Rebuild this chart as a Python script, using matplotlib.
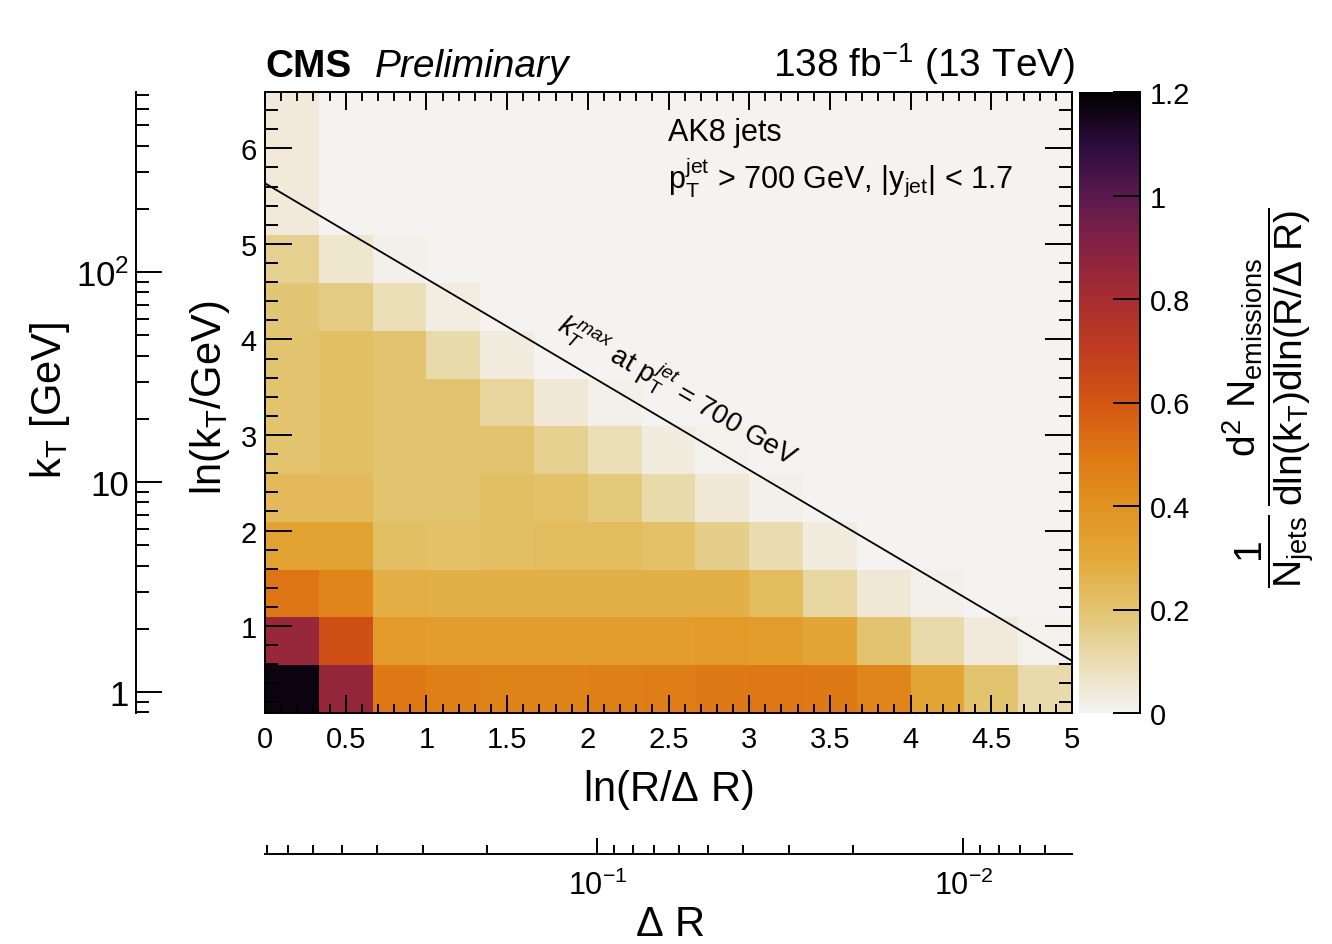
import numpy as np
import matplotlib
matplotlib.use('Agg')
import matplotlib.pyplot as plt
from matplotlib.colors import LinearSegmentedColormap
from matplotlib.ticker import MultipleLocator, FixedLocator, LogLocator, NullFormatter, FuncFormatter, FixedFormatter
from matplotlib.lines import Line2D

plt.rcParams['font.family'] = ['Liberation Sans', 'DejaVu Sans']
plt.rcParams['mathtext.fontset'] = 'custom'
plt.rcParams['mathtext.rm'] = 'Liberation Sans'
plt.rcParams['mathtext.it'] = 'Liberation Sans:italic'
plt.rcParams['mathtext.bf'] = 'Liberation Sans:bold'
plt.rcParams['mathtext.sf'] = 'Liberation Sans'
plt.rcParams['mathtext.default'] = 'regular'

# ---------------- data ----------------
ln_R_dR_edges = np.linspace(0.0, 5.0, 16)            # ln(R/dR) bin edges
ln_kT_edges = np.array([0.09, 0.59, 1.09, 1.59, 2.09, 2.59, 3.09,
                        3.59, 4.09, 4.59, 5.09, 5.59, 6.09, 6.59])  # ln(kT/GeV) bin edges

# density per ln(kT) row (bottom -> top), 15 ln(R/dR) bins each
row_00 = [1.17, 0.86, 0.50, 0.47, 0.46, 0.46, 0.47, 0.48, 0.49, 0.50, 0.49, 0.45, 0.31, 0.20, 0.11]
row_01 = [0.85, 0.63, 0.36, 0.35, 0.35, 0.35, 0.35, 0.35, 0.36, 0.35, 0.31, 0.20, 0.11, 0.04, 0.01]
row_02 = [0.51, 0.45, 0.28, 0.27, 0.27, 0.27, 0.27, 0.27, 0.27, 0.23, 0.12, 0.05, 0.015, 0.0, 0.0]
row_03 = [0.33, 0.33, 0.22, 0.21, 0.22, 0.23, 0.23, 0.21, 0.16, 0.10, 0.035, 0.0, 0.0, 0.0, 0.0]
row_04 = [0.24, 0.24, 0.20, 0.20, 0.22, 0.21, 0.18, 0.11, 0.05, 0.015, 0.0, 0.0, 0.0, 0.0, 0.0]
row_05 = [0.20, 0.22, 0.20, 0.20, 0.20, 0.15, 0.09, 0.035, 0.01, 0.0, 0.0, 0.0, 0.0, 0.0, 0.0]
row_06 = [0.20, 0.22, 0.20, 0.20, 0.13, 0.05, 0.015, 0.0, 0.0, 0.0, 0.0, 0.0, 0.0, 0.0, 0.0]
row_07 = [0.20, 0.22, 0.20, 0.11, 0.035, 0.0, 0.0, 0.0, 0.0, 0.0, 0.0, 0.0, 0.0, 0.0, 0.0]
row_08 = [0.19, 0.17, 0.09, 0.03, 0.0, 0.0, 0.0, 0.0, 0.0, 0.0, 0.0, 0.0, 0.0, 0.0, 0.0]
row_09 = [0.15, 0.06, 0.015, 0.0, 0.0, 0.0, 0.0, 0.0, 0.0, 0.0, 0.0, 0.0, 0.0, 0.0, 0.0]
row_10 = [0.04, 0.0, 0.0, 0.0, 0.0, 0.0, 0.0, 0.0, 0.0, 0.0, 0.0, 0.0, 0.0, 0.0, 0.0]
row_11 = [0.04, 0.0, 0.0, 0.0, 0.0, 0.0, 0.0, 0.0, 0.0, 0.0, 0.0, 0.0, 0.0, 0.0, 0.0]
row_12 = [0.04, 0.0, 0.0, 0.0, 0.0, 0.0, 0.0, 0.0, 0.0, 0.0, 0.0, 0.0, 0.0, 0.0, 0.0]

# kT^max line at pT = 700 GeV
line_x = [0.0, 5.0]
line_y = [5.635, 0.635]

cbar_ticks = [0, 0.2, 0.4, 0.6, 0.8, 1.0, 1.2]
cbar_labels = ['0', '0.2', '0.4', '0.6', '0.8', '1', '1.2']

Z = np.array([row_00, row_01, row_02, row_03, row_04, row_05, row_06,
              row_07, row_08, row_09, row_10, row_11, row_12])

# ---------------- colormap ----------------
vmax = 1.2
anchors = [(0.00, '#f4f3f1'), (0.05, '#f0e8d4'), (0.10, '#eadcb0'), (0.15, '#e5d090'),
           (0.20, '#e3c46e'), (0.30, '#e3a838'), (0.40, '#e1921f'), (0.50, '#de7814'),
           (0.60, '#d45512'), (0.70, '#c03c20'), (0.80, '#a82d30'), (0.90, '#862244'),
           (1.00, '#5a1a4e'), (1.10, '#2a0c3c'), (1.20, '#000000')]
cmap = LinearSegmentedColormap.from_list('cmsbody', [(v / vmax, c) for v, c in anchors], N=512)

# ---------------- figure ----------------
W, H = 1332, 945
fig = plt.figure(figsize=(W / 100, H / 100), dpi=100)

def fr(x0, y0, x1, y1):
    return [x0 / W, 1 - y1 / H, (x1 - x0) / W, (y1 - y0) / H]

LW = 1.4
PT = 72 / 100  # points per pixel

ax = fig.add_axes(fr(265, 93, 1072, 714))
ax.set_facecolor(cmap(0.0))
mesh = ax.pcolormesh(ln_R_dR_edges, ln_kT_edges, Z, cmap=cmap, vmin=0, vmax=vmax, shading='flat')
ax.plot(line_x, line_y, color='black', lw=1.3)
ax.set_xlim(0, 5)
ax.set_ylim(ln_kT_edges[0], ln_kT_edges[-1])
for s in ax.spines.values():
    s.set_linewidth(LW)
ax.xaxis.set_major_locator(MultipleLocator(0.5))
ax.xaxis.set_minor_locator(MultipleLocator(0.1))
ax.yaxis.set_major_locator(MultipleLocator(1))
ax.yaxis.set_minor_locator(MultipleLocator(0.2))
ax.xaxis.set_major_formatter(FuncFormatter(lambda v, p: f'{v:g}'))
ax.yaxis.set_major_formatter(FuncFormatter(lambda v, p: f'{v:g}'))
ax.tick_params(axis='x', which='major', direction='in', length=18 * PT, width=LW, top=True, labelsize=21, pad=9)
ax.tick_params(axis='x', which='minor', direction='in', length=9 * PT, width=LW, top=True)
ax.tick_params(axis='y', which='major', direction='in', length=27 * PT, width=LW, right=True, labelsize=21, pad=6)
ax.tick_params(axis='y', which='minor', direction='in', length=13 * PT, width=LW, right=True)

ax.text(1.80, 4.11, r'$\mathit{k}_{\mathit{T}}^{\mathit{max}}$ at $p_{T}^{\mathit{jet}}$ = 700 GeV',
        rotation=-30.2, rotation_mode='anchor', ha='left', va='baseline', fontsize=20)

# colorbar
cax = fig.add_axes(fr(1079, 93, 1140, 714))
cb = fig.colorbar(mesh, cax=cax)
cb.outline.set_visible(False)
cax.add_line(Line2D([1, 1], [0, 1], transform=cax.transAxes, color='black', lw=LW, clip_on=False))
cb.set_ticks(cbar_ticks)
cb.set_ticklabels(cbar_labels)
cax.tick_params(axis='y', which='major', direction='in', length=27 * PT, width=LW, labelsize=21, pad=7)
cax.tick_params(axis='y', which='minor', length=0)

# left kT axis (log)
axk = fig.add_axes(fr(136, 93, 137, 714))
axk.patch.set_visible(False)
axk.set_yscale('log')
axk.set_ylim(0.794, 720)
for k in ['top', 'right', 'bottom']:
    axk.spines[k].set_visible(False)
axk.spines['left'].set_linewidth(LW)
axk.set_xticks([])
axk.yaxis.set_major_locator(FixedLocator([1, 10, 100]))
axk.yaxis.set_major_formatter(FixedFormatter(['1', '10', r'$10^{2}$']))
axk.yaxis.set_minor_locator(LogLocator(base=10, subs=np.arange(2, 10)))
axk.yaxis.set_minor_formatter(NullFormatter())
axk.tick_params(axis='y', which='major', direction='in', length=26 * PT, width=LW, labelsize=25, pad=5)
axk.tick_params(axis='y', which='minor', direction='in', length=13 * PT, width=LW)

# bottom Delta R axis (log, inverted)
axd = fig.add_axes(fr(265, 854, 1072, 855))
axd.patch.set_visible(False)
axd.set_xscale('log')
axd.set_xlim(0.81, 0.00505)
for k in ['top', 'right', 'left']:
    axd.spines[k].set_visible(False)
axd.spines['bottom'].set_linewidth(LW)
axd.set_yticks([])
axd.xaxis.set_major_locator(FixedLocator([0.1, 0.01]))
axd.xaxis.set_major_formatter(FixedFormatter([r'$10^{-1}$', r'$10^{-2}$']))
axd.xaxis.set_minor_locator(LogLocator(base=10, subs=np.arange(2, 10)))
axd.xaxis.set_minor_formatter(NullFormatter())
axd.tick_params(axis='x', which='major', direction='in', length=16 * PT, width=LW, labelsize=22, pad=11)
axd.tick_params(axis='x', which='minor', direction='in', length=9 * PT, width=LW)

# ---------------- texts ----------------
fig.text(265 / W, 1 - 77 / H, 'CMS', fontsize=28, fontweight='bold', ha='left', va='baseline')
fig.text(375 / W, 1 - 77 / H, 'Preliminary', fontsize=28, style='italic', ha='left', va='baseline')
fig.text(1075 / W, 1 - 77 / H, r'138 fb$^{-1}$ (13 TeV)', fontsize=28, ha='right', va='baseline')
fig.text(668 / W, 1 - 141 / H, 'AK8 jets', fontsize=22, ha='left', va='baseline')
fig.text(668 / W, 1 - 188 / H, r'$p_{T}^{jet}$ > 700 GeV, |$y_{jet}$| < 1.7', fontsize=22, ha='left', va='baseline')

fig.text(668 / W, 1 - 790 / H, r'ln(R/$\Delta$ R)', fontsize=30, ha='center', va='center')
fig.text(670 / W, 1 - 925 / H, r'$\Delta$ R', fontsize=30, ha='center', va='center')
fig.text(210 / W, 1 - 398 / H, r'ln($k_{T}$/GeV)', fontsize=30, ha='center', va='center', rotation=90)
fig.text(50 / W, 1 - 400 / H, r'$k_{T}$ [GeV]', fontsize=30, ha='center', va='center', rotation=90)
fig.text(1268 / W, 1 - 398 / H,
         r'$\dfrac{1}{N_{jets}}\,\dfrac{d^{2}\ N_{emissions}}{dln(k_{T})dln(R/\Delta\ R)}$',
         fontsize=28, ha='center', va='center', rotation=90)

fig.savefig('out.png', dpi=100)
